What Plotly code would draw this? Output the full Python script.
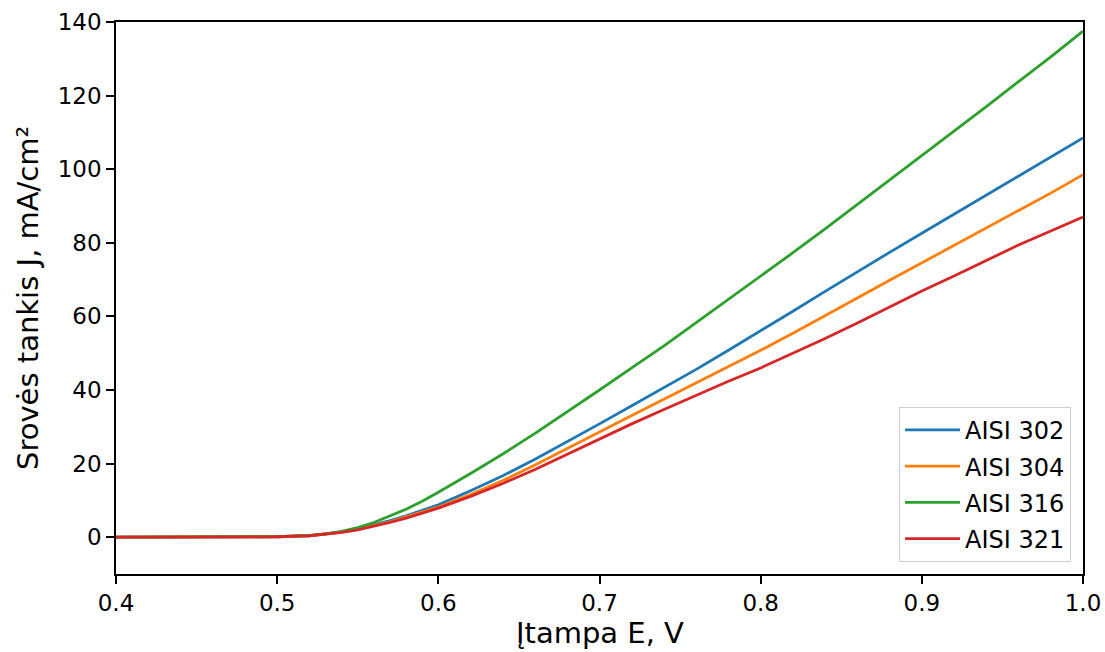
import plotly.graph_objects as go

E = [0.40, 0.45, 0.48, 0.50, 0.52, 0.53, 0.54, 0.55, 0.56, 0.57, 0.58, 0.59, 0.60,
     0.62, 0.64, 0.66, 0.68, 0.70, 0.72, 0.74, 0.76, 0.78, 0.80, 0.82, 0.84, 0.86,
     0.88, 0.90, 0.92, 0.94, 0.96, 0.98, 1.00]

aisi_302 = [0, 0, 0.05, 0.12, 0.4, 0.8, 1.4, 2.2, 3.3, 4.5, 5.8, 7.2, 8.8,
            12.6, 16.7, 21.2, 25.9, 30.8, 35.7, 40.6, 45.6, 50.8, 56.0, 61.4, 66.8, 72.2,
            77.4, 82.6, 87.8, 93.0, 98.1, 103.3, 108.5]
aisi_304 = [0, 0, 0.05, 0.12, 0.4, 0.8, 1.4, 2.1, 3.1, 4.2, 5.5, 6.8, 8.2,
            11.6, 15.4, 19.6, 24.0, 28.6, 33.1, 37.5, 42.0, 46.4, 50.8, 55.4, 60.3, 65.0,
            69.8, 74.6, 79.3, 84.0, 88.8, 93.5, 98.5]
aisi_316 = [0, 0, 0.05, 0.15, 0.5, 0.9, 1.6, 2.6, 4.0, 5.7, 7.6, 9.8, 12.2,
            17.3, 22.6, 28.2, 34.0, 40.0, 46.0, 52.0, 58.3, 64.6, 71.0, 77.3, 83.8, 90.4,
            97.0, 103.8, 110.4, 117.0, 123.8, 130.5, 137.5]
aisi_321 = [0, 0, 0.05, 0.12, 0.4, 0.8, 1.3, 2.0, 2.9, 4.0, 5.2, 6.5, 7.9,
            11.1, 14.6, 18.4, 22.6, 26.8, 30.8, 34.7, 38.6, 42.4, 46.0, 49.9, 54.0, 58.2,
            62.6, 66.9, 71.0, 75.2, 79.4, 83.2, 87.0]

series = [("AISI 302", aisi_302, "#1f77b4"),
          ("AISI 304", aisi_304, "#ff7f0e"),
          ("AISI 316", aisi_316, "#2ca02c"),
          ("AISI 321", aisi_321, "#d62728")]

x_ticks = [0.4, 0.5, 0.6, 0.7, 0.8, 0.9, 1.0]
y_ticks = [0, 20, 40, 60, 80, 100, 120, 140]

x_title = "Įtampa E, V"
y_title = "Srovės tankis J, mA/cm²"

fig = go.Figure()
for name, vals, col in series:
    fig.add_trace(go.Scatter(x=E, y=vals, mode="lines", name=name, legendgroup=name,
                             line=dict(color=col, width=2.8)))

font_family = "DejaVu Sans"
axis_common = dict(showgrid=False, zeroline=False, showline=True, linecolor="black",
                   linewidth=1.6, mirror=True, ticks="outside", ticklen=8, tickwidth=1.6,
                   tickcolor="black", tickfont=dict(size=23, family=font_family),
                   automargin=False)

fig.update_layout(
    width=1105, height=652,
    margin=dict(l=116, r=22, t=22, b=78),
    paper_bgcolor="white", plot_bgcolor="white",
    font=dict(family=font_family, color="black", size=23),
    showlegend=True,
    legend=dict(x=0.9876, xanchor="right", y=0.022, yanchor="bottom",
                bgcolor="white", bordercolor="#cccccc", borderwidth=1,
                tracegroupgap=2, itemwidth=55,
                font=dict(size=24, family=font_family)),
    xaxis=dict(range=[0.4, 1.0], tickvals=x_ticks,
               ticktext=[f"{v:.1f}" for v in x_ticks], **axis_common),
    yaxis=dict(range=[-10, 140], tickvals=y_ticks, **axis_common),
    annotations=[
        dict(text=x_title, xref="paper", yref="paper", x=0.5, y=-0.106,
             xanchor="center", yanchor="middle", showarrow=False,
             font=dict(size=29, family=font_family)),
        dict(text=y_title, xref="paper", yref="paper", x=-0.091, y=0.5,
             xanchor="center", yanchor="middle", textangle=-90, showarrow=False,
             font=dict(size=29, family=font_family)),
    ],
)

fig.write_html("out.html", config={"displayModeBar": False},
               post_script="document.body.style.margin='0px';document.body.style.overflow='hidden';")
